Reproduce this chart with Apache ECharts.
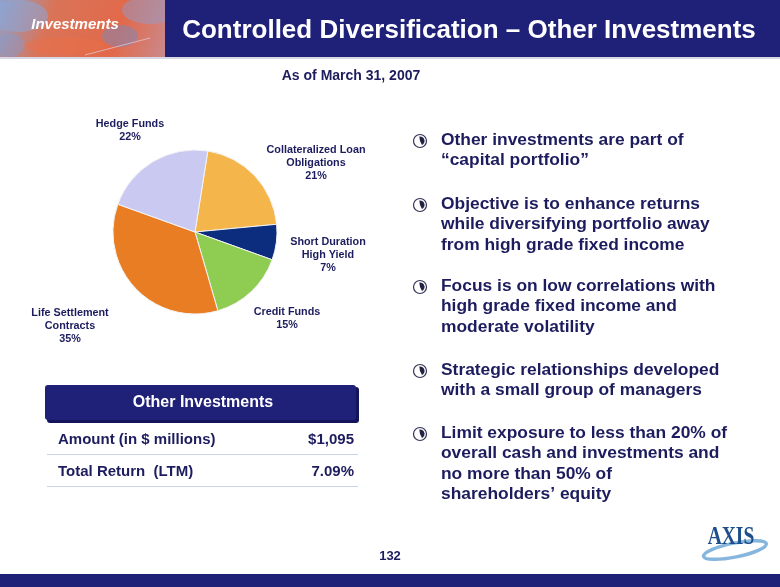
<!DOCTYPE html>
<html><head><meta charset="utf-8">
<script src="https://cdn.jsdelivr.net/npm/echarts@6/dist/echarts.min.js"></script>
<style>html,body{margin:0;padding:0;background:#fff}#c{width:780px;height:587px}</style>
</head><body><div id="c"></div>
<script>
const categories = ['Collateralized Loan Obligations','Short Duration High Yield','Credit Funds','Life Settlement Contracts','Hedge Funds'];
const labelLines = [['Collateralized Loan','Obligations'],['Short Duration','High Yield'],['Credit Funds'],['Life Settlement','Contracts'],['Hedge Funds']];
const shares = [21, 7, 15, 35, 22];
const sliceColors = ['#F4B54B','#0C2D7D','#8FCC52','#E87D24','#C9C9F2'];
const labelPos = [[316,163],[328,255],[287,319],[70,326],[130,131]];
const tableRows = [['Amount (in $ millions)','$1,095'],['Total Return  (LTM)','7.09%']];
const bullets = [
  ['Other investments are part of','\u201Ccapital portfolio\u201D'],
  ['Objective is to enhance returns','while diversifying portfolio away','from high grade fixed income'],
  ['Focus is on low correlations with','high grade fixed income and','moderate volatility'],
  ['Strategic relationships developed','with a small group of managers'],
  ['Limit exposure to less than 20% of','overall cash and investments and','no more than 50% of','shareholders\u2019 equity']
];
const bulletY = [140, 204, 286, 370, 433];

const NAVY = '#1F2078';
const TXT = '#1C1C5E';
const FF = '"Liberation Sans", Arial, sans-serif';

const g = [];
// header photo
g.push({type:'rect', shape:{x:0,y:0,width:166,height:57}, style:{fill:{type:'linear',x:0,y:0,x2:1,y2:1,colorStops:[{offset:0,color:'#8FA2CC'},{offset:0.3,color:'#D97458'},{offset:0.7,color:'#E2694A'},{offset:1,color:'#C98A8E'}]}}});
g.push({type:'ellipse', shape:{cx:18,cy:16,rx:30,ry:16}, style:{fill:'rgba(140,165,215,0.55)'}});
g.push({type:'ellipse', shape:{cx:150,cy:10,rx:28,ry:14}, style:{fill:'rgba(140,160,210,0.45)'}});
g.push({type:'ellipse', shape:{cx:120,cy:36,rx:18,ry:11}, style:{fill:'rgba(110,140,200,0.45)'}});
g.push({type:'ellipse', shape:{cx:10,cy:45,rx:14,ry:12}, style:{fill:'rgba(130,155,210,0.4)'}});
g.push({type:'ellipse', shape:{cx:65,cy:46,rx:40,ry:9}, style:{fill:'rgba(235,110,70,0.45)'}});
g.push({type:'line', shape:{x1:85,y1:55,x2:150,y2:38}, style:{stroke:'rgba(230,220,240,0.6)',lineWidth:1}});
g.push({type:'text', style:{x:75,y:25,text:'Investments',fill:'#fff',font:'italic bold 15px '+FF,align:'center',verticalAlign:'middle'}});
// header band
g.push({type:'rect', shape:{x:165,y:0,width:615,height:57}, style:{fill:NAVY}});
g.push({type:'rect', shape:{x:0,y:57,width:780,height:2}, style:{fill:'#D8D8E4'}});
g.push({type:'text', style:{x:469,y:31,text:'Controlled Diversification \u2013 Other Investments',fill:'#fff',font:'bold 26px '+FF,align:'center',verticalAlign:'middle'}});
g.push({type:'text', style:{x:351,y:76,text:'As of March 31, 2007',fill:TXT,font:'bold 14px '+FF,align:'center',verticalAlign:'middle'}});
// table
g.push({type:'rect', shape:{x:47,y:387,width:312,height:36,r:3}, style:{fill:'#14145A'}});
g.push({type:'rect', shape:{x:45,y:385,width:311,height:35,r:3}, style:{fill:NAVY}});
g.push({type:'text', style:{x:203,y:403,text:'Other Investments',fill:'#fff',font:'bold 16px '+FF,align:'center',verticalAlign:'middle'}});
tableRows.forEach((r,i)=>{
  const y = 440 + i*32;
  g.push({type:'text', style:{x:58,y:y,text:r[0],fill:TXT,font:'bold 15px '+FF,align:'left',verticalAlign:'middle'}});
  g.push({type:'text', style:{x:354,y:y,text:r[1],fill:TXT,font:'bold 15px '+FF,align:'right',verticalAlign:'middle'}});
  g.push({type:'rect', shape:{x:47,y:y+14,width:311,height:1}, style:{fill:'#C8D4E8'}});
});
// bullets
bullets.forEach((lines,i)=>{
  const y0 = bulletY[i];
  g.push({type:'circle', shape:{cx:420,cy:y0+1,r:6.5}, style:{fill:'#fff',stroke:'#333355',lineWidth:1.2}});
  g.push({type:'sector', shape:{cx:420,cy:y0+1,r:4.5,r0:0,startAngle:-Math.PI*0.55,endAngle:Math.PI*0.35}, style:{fill:'#222244'}});
  lines.forEach((t,j)=>{
    g.push({type:'text', style:{x:441,y:y0+j*20.5,text:t,fill:TXT,font:'bold 17.4px '+FF,align:'left',verticalAlign:'middle'}});
  });
});
// page number
g.push({type:'text', style:{x:390,y:556,text:'132',fill:TXT,font:'bold 13px '+FF,align:'center',verticalAlign:'middle'}});
// logo
g.push({type:'ellipse', rotation:0.2, originX:735, originY:550, shape:{cx:735,cy:550,rx:32,ry:7}, style:{fill:'none',stroke:'#86B6DE',lineWidth:3.5}});
g.push({type:'text', x:731, y:538, scaleX:0.78, style:{x:0,y:0,text:'AXIS',fill:'#1E4E8C',font:'bold 25px "Liberation Serif", "DejaVu Serif", serif',align:'center',verticalAlign:'middle'}});
// footer
g.push({type:'rect', shape:{x:0,y:574,width:780,height:13}, style:{fill:NAVY}});

const chart = echarts.init(document.getElementById('c'), null, {renderer:'canvas'});
chart.setOption({
  animation:false,
  backgroundColor:'#fff',
  graphic:g,
  series:[{
    type:'pie',
    center:[195,232],
    radius:82,
    startAngle:81,
    clockwise:true,
    data:categories.map((c,i)=>({name:c,value:shares[i],itemStyle:{color:sliceColors[i]}})),
    itemStyle:{borderColor:'#F4F4F4',borderWidth:1},
    label:{
      show:true,
      position:'outside',
      formatter:(p)=>labelLines[p.dataIndex].join('\n')+'\n'+shares[p.dataIndex]+'%',
      color:TXT,
      fontFamily:FF,
      fontWeight:'bold',
      fontSize:10.8,
      lineHeight:13,
      align:'center'
    },
    labelLine:{show:false},
    labelLayout:(p)=>({x:labelPos[p.dataIndex][0],y:labelPos[p.dataIndex][1],align:'center',verticalAlign:'middle',hideOverlap:false}),
    emphasis:{disabled:true}
  }]
});
</script></body></html>
